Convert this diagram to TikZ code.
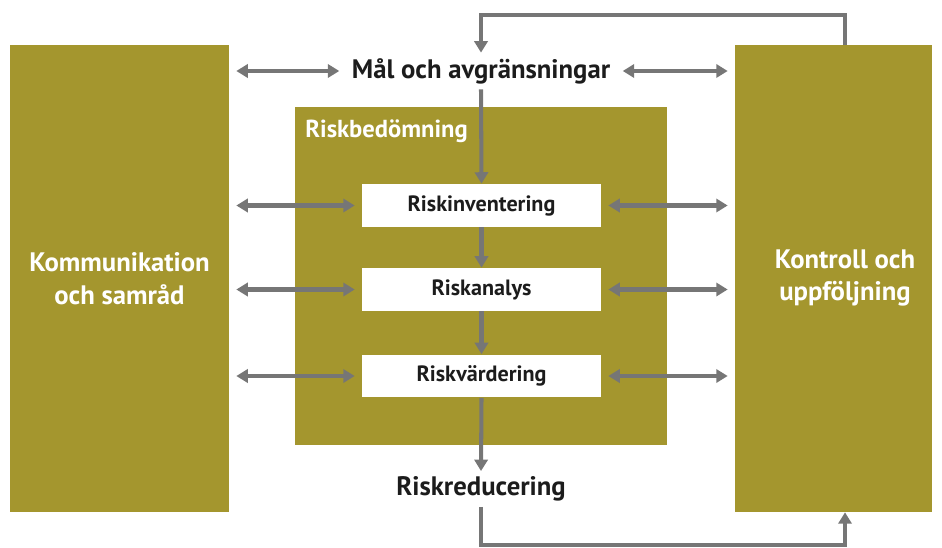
\documentclass[tikz,border=0pt]{standalone}
\usepackage{fontspec}
\setmainfont{PT Sans}
\usetikzlibrary{arrows.meta}
\definecolor{oliv}{HTML}{A4962E}
\definecolor{pilgra}{HTML}{767676}
\definecolor{skrift}{HTML}{1C1C1C}
\begin{document}
\begin{tikzpicture}[x=0.02cm,y=-0.02cm,>={Triangle[length=6.5pt,width=7.5pt]}]
\tikzset{
  blokk/.style={fill=oliv,inner sep=0pt},
  blokktekst/.style={text=white,font=\bfseries\fontsize{15.2}{18.5}\selectfont,align=center},
  steg/.style={fill=white,minimum width=4.78cm,minimum height=0.86cm,inner sep=0pt,
    text=skrift,font=\bfseries\fontsize{12.6}{14}\selectfont},
  rubrik/.style={text=skrift,font=\bfseries\fontsize{15.2}{18}\selectfont,inner sep=3pt},
  pil/.style={draw=pilgra,line width=2.3pt},
  dobbel/.style={pil,<->,shorten <=0.14cm,shorten >=0.14cm}
}
\useasboundingbox (0,0) rectangle (942,547);
% sidoblock
\node[blokk,minimum width=4.38cm,minimum height=9.34cm] (komm) at (119.5,278.5) {};
\node[blokktekst] at (komm.center) {Kommunikation\\och samråd};
\node[blokk,minimum width=3.94cm,minimum height=9.34cm] (kontroll) at (833.5,278.5) {};
\coordinate (kx) at (845,278);
\node[blokktekst] at (kx) {Kontroll och\\uppföljning};
% riskbedömning
\node[blokk,minimum width=7.44cm,minimum height=6.76cm] (bedom) at (481,276) {};
\node[anchor=west,text=white,font=\bfseries\fontsize{14}{16}\selectfont,inner sep=0pt] at (305,131) {Riskbedömning};
\node[steg] (inv) at (481.5,205.5) {\raisebox{-2pt}{Riskinventering}};
\node[steg] (ana) at (481.5,289.5) {\raisebox{-2pt}{Riskanalys}};
\node[steg] (vard) at (481.5,376) {\raisebox{-2pt}{Riskvärdering}};
% mål och reducering
\node[rubrik] (mal) at (481,71) {Mål och avgränsningar};
\node[rubrik] (red) at (481,489) {Riskreducering};
% pilar vertikalt
\draw[pil,->] (mal.south) -- (inv.north);
\draw[pil,->] (inv.south) -- (ana.north);
\draw[pil,->] (ana.south) -- (vard.north);
\draw[pil,->] (vard.south) -- (red.north);
% dubbelpilar
\draw[dobbel] (komm.east |- mal) -- (mal.west);
\draw[dobbel] (mal.east) -- (kontroll.west |- mal);
\foreach \s in {inv,ana,vard}{
  \draw[dobbel] (komm.east |- \s) -- (\s.west);
  \draw[dobbel] (\s.east) -- (kontroll.west |- \s);
}
% återkoppling
\coordinate (topp) at (481,15);
\coordinate (botten) at (481,545);
\draw[pil,->] (kontroll.north -| kx) |- (topp) -- (mal.north);
\draw[pil,->] (red.south) -- (botten) -| (kontroll.south -| kx);
\end{tikzpicture}
\end{document}
